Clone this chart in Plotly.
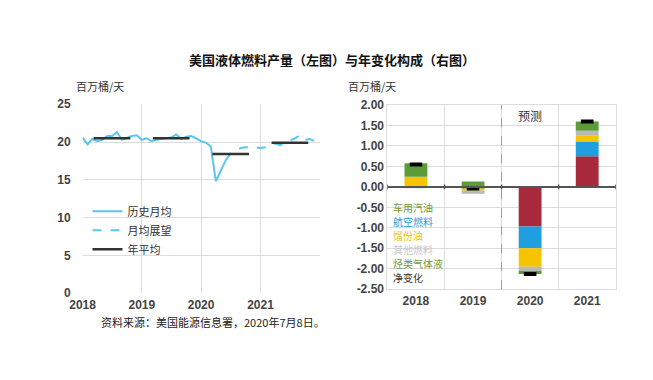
import plotly.graph_objects as go

# ---------------- data ----------------
hist_months = ["2018-01", "2018-02", "2018-03", "2018-04", "2018-05", "2018-06", "2018-07", "2018-08",
               "2018-09", "2018-10", "2018-11", "2018-12", "2019-01", "2019-02", "2019-03", "2019-04",
               "2019-05", "2019-06", "2019-07", "2019-08", "2019-09", "2019-10", "2019-11", "2019-12",
               "2020-01", "2020-02", "2020-03", "2020-04", "2020-05", "2020-06"]
hist_values = [20.6, 19.7, 20.4, 20.1, 20.3, 20.8, 20.8, 21.3, 20.3, 20.6, 20.8, 20.9,
               20.3, 20.5, 20.1, 20.3, 20.4, 20.6, 20.6, 21.0, 20.4, 20.7, 20.8, 20.5,
               20.1, 19.9, 19.4, 14.8, 16.3, 17.6]
fcst_months = ["2020-06", "2020-07", "2020-08", "2020-09", "2020-10", "2020-11", "2020-12",
               "2021-01", "2021-02", "2021-03", "2021-04", "2021-05", "2021-06", "2021-07",
               "2021-08", "2021-09", "2021-10", "2021-11", "2021-12"]
fcst_values = [17.6, 18.5, 18.9, 19.2, 19.3, 19.3, 19.3, 19.2, 19.3, 19.7, 19.8, 19.6, 19.9,
               20.1, 20.5, 20.9, 20.3, 20.4, 20.1]
years = [2018, 2019, 2020, 2021]
annual_avg = [20.5, 20.5, 18.4, 19.9]
left_yticks = [0, 5, 10, 15, 20, 25]

bar_cats = ["2018", "2019", "2020", "2021"]
gasoline = [0.00, -0.02, -0.97, 0.75]
jet_fuel = [0.00, -0.01, -0.53, 0.35]
distillate = [0.25, -0.06, -0.45, 0.15]
other_fuels = [-0.03, -0.08, -0.10, 0.12]
hgl = [0.33, 0.13, -0.08, 0.23]
net_change = [0.55, -0.04, -2.13, 1.60]
net_labels = ["0.55", "-0.04", "-2.13", "1.60"]
right_yticks = [2.0, 1.5, 1.0, 0.5, 0.0, -0.5, -1.0, -1.5, -2.0, -2.5]

legend_names = ["车用汽油", "航空燃料", "馏份油", "其他燃料", "烃类气体液", "净变化"]
left_legend = ["历史月均", "月均展望", "年平均"]

# ---------------- styling ----------------
CJK = "Noto Sans CJK SC"
TICKF = dict(family="Liberation Sans", size=12, color="#444444")
GRID = "#dcdcdc"
BLUE_LINE = "#5cc6ee"
c_gas, c_jet, c_dist, c_oth, c_hgl = "#a8293c", "#1e9fdf", "#f7c500", "#b8b8b8", "#5c9c38"
legend_text_colors = ["#6e9a3a", "#2a9bd8", "#f0c200", "#c8c8c8", "#6e9a3a", "#333333"]

fig = go.Figure()

# left chart
fig.add_trace(go.Scatter(x=[m + "-01" for m in hist_months], y=hist_values, mode="lines",
                         line=dict(color=BLUE_LINE, width=2), name=left_legend[0],
                         xaxis="x", yaxis="y"))
fig.add_trace(go.Scatter(x=[m + "-01" for m in fcst_months], y=fcst_values, mode="lines",
                         line=dict(color=BLUE_LINE, width=2, dash="dash"), name=left_legend[1],
                         xaxis="x", yaxis="y"))
ax, ay = [], []
for yr, v in zip(years, annual_avg):
    ax += [f"{yr}-03-10", f"{yr}-10-22", None]
    ay += [v, v, None]
fig.add_trace(go.Scatter(x=ax, y=ay, mode="lines", line=dict(color="#333333", width=2.5),
                         name=left_legend[2], xaxis="x", yaxis="y", connectgaps=False))

# right chart
for vals, col, nm in [(gasoline, c_gas, legend_names[0]), (jet_fuel, c_jet, legend_names[1]),
                      (distillate, c_dist, legend_names[2]), (other_fuels, c_oth, legend_names[3]),
                      (hgl, c_hgl, legend_names[4])]:
    fig.add_trace(go.Bar(x=bar_cats, y=vals, marker=dict(color=col, line=dict(width=0)),
                         width=0.4, name=nm, showlegend=False, xaxis="x2", yaxis="y2"))
fig.add_trace(go.Scatter(x=bar_cats, y=net_change, mode="markers",
                         marker=dict(symbol="line-ew-open", size=9, color="black",
                                     line=dict(color="black", width=4)),
                         showlegend=False, xaxis="x2", yaxis="y2"))

annotations = []
for i, c in enumerate(bar_cats):
    comps = [gasoline[i], jet_fuel[i], distillate[i], other_fuels[i], hgl[i]]
    if net_change[i] >= 0:
        top = sum(v for v in comps if v > 0)
        annotations.append(dict(x=c, y=top, xref="x2", yref="y2", text="<b>" + net_labels[i] + "</b>",
                                showarrow=False, yanchor="bottom", yshift=4,
                                font=dict(family="Liberation Sans", size=13, color="#333")))
    else:
        bot = sum(v for v in comps if v < 0)
        annotations.append(dict(x=c, y=bot, xref="x2", yref="y2", text="<b>" + net_labels[i] + "</b>",
                                showarrow=False, yanchor="top", yshift=-5,
                                font=dict(family="Liberation Sans", size=13, color="#333")))

# right legend text
for k, (t, col) in enumerate(zip(legend_names, legend_text_colors)):
    annotations.append(dict(x=386 / 653, y=1 - (208 + k * 14.6) / 380, xref="paper", yref="paper",
                            text=t, showarrow=False, xanchor="left", yanchor="middle",
                            font=dict(family=CJK, size=10, color=col)))

annotations += [
    dict(x=325 / 653, y=1 - 55 / 380, xref="paper", yref="paper", text="<b>美国液体燃料产量（左图）与年变化构成（右图）</b>",
         showarrow=False, xanchor="center", yanchor="middle", font=dict(family=CJK, size=13, color="#111")),
    dict(x=62 / 653, y=1 - 82 / 380, xref="paper", yref="paper", text="百万桶/天",
         showarrow=False, xanchor="left", yanchor="middle", font=dict(family=CJK, size=11, color="#333")),
    dict(x=340 / 653, y=1 - 82 / 380, xref="paper", yref="paper", text="百万桶/天",
         showarrow=False, xanchor="left", yanchor="middle", font=dict(family=CJK, size=11, color="#333")),
    dict(x=513 / 653, y=1 - 113 / 380, xref="paper", yref="paper", text="预测",
         showarrow=False, xanchor="left", yanchor="middle", font=dict(family=CJK, size=12, color="#333")),
    dict(x=88 / 653, y=1 - 327 / 380, xref="paper", yref="paper", text="资料来源：美国能源信息署，2020年7月8日。",
         showarrow=False, xanchor="left", yanchor="middle", font=dict(family=CJK, size=11, color="#222")),
]

shapes = [
    dict(type="line", xref="x2", yref="paper", x0=1.5, x1=1.5, y0=0.229, y1=0.732,
         line=dict(color="#999999", width=1, dash="dash")),
    dict(type="line", xref="x2", yref="y2", x0=-0.5, x1=3.5, y0=0, y1=0,
         line=dict(color="#555555", width=2)),
]
for b in [-0.5, 0.5, 1.5, 2.5, 3.5]:
    shapes.append(dict(type="line", xref="x2", yref="y2", x0=b, x1=b, y0=-0.06, y1=0.06,
                       line=dict(color="#555555", width=1.5)))

fig.update_layout(
    width=653, height=380, margin=dict(l=0, r=0, t=0, b=0),
    paper_bgcolor="white", plot_bgcolor="white", barmode="relative",
    showlegend=True,
    legend=dict(x=76 / 653, y=1 - 197 / 380, xanchor="left", yanchor="top",
                bgcolor="rgba(255,255,255,0)", font=dict(family=CJK, size=11, color="#333"),
                tracegroupgap=0, itemwidth=30),
    xaxis=dict(domain=[71 / 653, 313 / 653], type="date", range=["2018-01-01", "2022-01-01"],
               tickvals=[f"{y}-01-01" for y in years], ticktext=[f"<b>{y}</b>" for y in years],
               showgrid=True, gridcolor=GRID, zeroline=False, ticks="", tickfont=TICKF,
               ticklabelstandoff=3, showline=False, anchor="y"),
    yaxis=dict(domain=[1 - 297 / 380, 1 - 101 / 380], range=[0, 25],
               tickvals=left_yticks, ticktext=[f"<b>{v}</b>" for v in left_yticks],
               showgrid=True, gridcolor=GRID, zeroline=False, ticks="", tickfont=TICKF,
               ticklabelstandoff=11, showline=False, anchor="x"),
    xaxis2=dict(domain=[382 / 653, 615 / 653], type="category", range=[-0.5, 3.5],
                tickvals=bar_cats, ticktext=[f"<b>{c}</b>" for c in bar_cats],
                tickson="boundaries", showgrid=True, gridcolor=GRID, ticks="",
                tickfont=TICKF, showline=True, linecolor=GRID, mirror=True, anchor="y2"),
    yaxis2=dict(domain=[0.229, 0.732], range=[-2.5, 2.0],
                tickvals=right_yticks, ticktext=[f"<b>{v:.2f}</b>" for v in right_yticks],
                showgrid=True, gridcolor=GRID, zeroline=False, ticks="", tickfont=TICKF,
                showline=True, linecolor=GRID, mirror=True, anchor="x2"),
    annotations=annotations, shapes=shapes,
)

fig.write_html("out.html", config={"displayModeBar": False},
               post_script="document.body.style.margin='0';")
